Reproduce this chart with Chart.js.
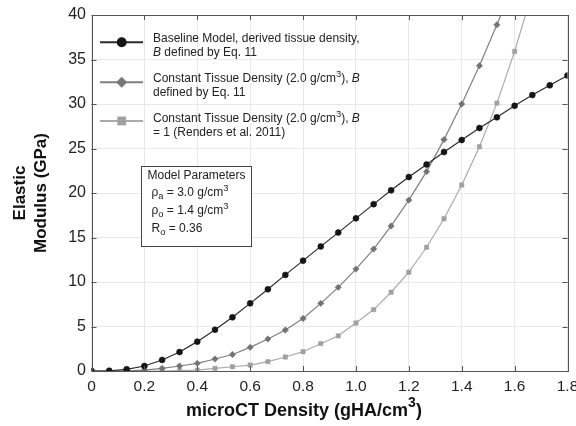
<!DOCTYPE html>
<html>
<head>
<meta charset="utf-8">
<script src="https://cdn.jsdelivr.net/npm/chart.js@4.4.1/dist/chart.umd.min.js"></script>
<style>
html, body { margin: 0; padding: 0; background: #fff; }
#wrap { width: 576px; height: 426px; position: relative; }
</style>
</head>
<body>
<div id="wrap"><canvas id="chartModulus"></canvas></div>
<script>
// microCT density (gHA/cm3) sample points
var density = [0, 0.067, 0.133, 0.2, 0.267, 0.333, 0.4, 0.467, 0.533, 0.6, 0.667, 0.733, 0.8, 0.867,
               0.933, 1.0, 1.067, 1.133, 1.2, 1.267, 1.333, 1.4, 1.467, 1.533, 1.6, 1.667, 1.733, 1.8];
// elastic modulus (GPa)
var baseline = [0, 0.03, 0.19, 0.56, 1.24, 2.13, 3.3, 4.64, 6.03, 7.6, 9.18, 10.8, 12.4, 14.0,
                15.55, 17.15, 18.75, 20.3, 21.8, 23.2, 24.6, 25.95, 27.3, 28.5, 29.8, 31.0, 32.1, 33.2];
var constEq11 = [0, 0, 0.02, 0.1, 0.3, 0.56, 0.86, 1.35, 1.85, 2.66, 3.6, 4.6, 5.9, 7.6,
                 9.4, 11.45, 13.7, 16.3, 19.2, 22.4, 26.0, 30.0, 34.3, 38.9, 43.8];
var constB1 = [0, 0, 0, 0, 0, 0.05, 0.1, 0.3, 0.48, 0.67, 1.05, 1.57, 2.17, 3.07,
               3.95, 5.4, 6.9, 8.85, 11.1, 13.9, 17.1, 20.9, 25.2, 30.1, 35.9, 42.6];
var xTicks = ['0', '0.2', '0.4', '0.6', '0.8', '1.0', '1.2', '1.4', '1.6', '1.8'];
var yTicks = ['0', '5', '10', '15', '20', '25', '30', '35', '40'];

var FONT = '"Liberation Sans", Arial, Helvetica, sans-serif';

function pts(ys) {
    return ys.map(function (y, i) { return { x: density[i], y: y }; });
}

// draws a row of text pieces (normal / italic / sup / sub), returns end x
function runs(ctx, x, y, parts, size, bold, dry) {
    parts.forEach(function (p) {
        var s = size, dy = 0, st = '';
        if (p.s === 'i') st = 'italic ';
        if (p.s === 'sup') { s = size * 0.78; dy = -size * 0.42; }
        if (p.s === 'sub') { s = size * 0.78; dy = size * 0.32; }
        ctx.font = st + (bold ? 'bold ' : '') + s + 'px ' + FONT;
        if (!dry) ctx.fillText(p.t, x, y + dy);
        x += ctx.measureText(p.t).width;
    });
    return x;
}

function marker(ctx, kind, x, y, r, color) {
    ctx.fillStyle = color;
    ctx.beginPath();
    if (kind === 'circle') ctx.arc(x, y, r, 0, Math.PI * 2);
    if (kind === 'diamond') { ctx.moveTo(x, y - r); ctx.lineTo(x + r, y); ctx.lineTo(x, y + r); ctx.lineTo(x - r, y); ctx.closePath(); }
    if (kind === 'square') ctx.rect(x - r * 0.8, y - r * 0.8, r * 1.6, r * 1.6);
    ctx.fill();
}

var decor = {
    id: 'decor',
    afterDraw: function (chart) {
        var ctx = chart.ctx, a = chart.chartArea;
        var sx = chart.scales.x, sy = chart.scales.y;
        ctx.save();

        // inward tick marks on all four sides
        ctx.strokeStyle = '#555';
        ctx.lineWidth = 1;
        ctx.beginPath();
        sx.ticks.forEach(function (t) {
            var px = Math.round(sx.getPixelForValue(t.value)) + 0.5;
            ctx.moveTo(px, a.bottom); ctx.lineTo(px, a.bottom - 5);
            ctx.moveTo(px, a.top); ctx.lineTo(px, a.top + 5);
        });
        sy.ticks.forEach(function (t) {
            var py = Math.round(sy.getPixelForValue(t.value)) + 0.5;
            ctx.moveTo(a.left, py); ctx.lineTo(a.left + 5, py);
            ctx.moveTo(a.right, py); ctx.lineTo(a.right - 5, py);
        });
        ctx.stroke();
        ctx.strokeRect(Math.round(a.left) + 0.5, Math.round(a.top) + 0.5,
                       Math.round(a.right - a.left), Math.round(a.bottom - a.top));

        // legend
        var entries = [
            { y: 38.5, my: 42.3, line: '#2b2b2b', mark: 'circle', mc: '#151515', r: 5,
              l1: [{ t: 'Baseline Model, derived tissue density,' }],
              l2: [{ t: 'B', s: 'i' }, { t: ' defined by Eq. 11' }] },
            { y: 79, my: 82.3, line: '#808080', mark: 'diamond', mc: '#777', r: 5.5,
              l1: [{ t: 'Constant Tissue Density (2.0 g/cm' }, { t: '3', s: 'sup' }, { t: '), ' }, { t: 'B', s: 'i' }],
              l2: [{ t: 'defined by Eq. 11' }] },
            { y: 119, my: 121, line: '#ababab', mark: 'square', mc: '#a0a0a0', r: 5.5,
              l1: [{ t: 'Constant Tissue Density (2.0 g/cm' }, { t: '3', s: 'sup' }, { t: '), ' }, { t: 'B', s: 'i' }],
              l2: [{ t: '= 1 (Renders et al. 2011)' }] }
        ];
        ctx.textBaseline = 'middle';
        ctx.textAlign = 'left';
        entries.forEach(function (e) {
            ctx.strokeStyle = e.line;
            ctx.lineWidth = 2;
            ctx.beginPath(); ctx.moveTo(100, e.my); ctx.lineTo(143, e.my); ctx.stroke();
            marker(ctx, e.mark, 121.7, e.my, e.r, e.mc);
            ctx.fillStyle = '#222';
            runs(ctx, 153, e.y, e.l1, 12);
            runs(ctx, 153, e.y + 14, e.l2, 12);
        });

        // model parameter box
        ctx.fillStyle = '#fff';
        ctx.fillRect(142, 167, 110, 80);
        ctx.strokeStyle = '#444';
        ctx.lineWidth = 1;
        ctx.strokeRect(141.5, 166.5, 110, 80);
        ctx.fillStyle = '#222';
        runs(ctx, 147.5, 175.5, [{ t: 'Model Parameters' }], 12);
        runs(ctx, 151.5, 193, [{ t: 'ρ' }, { t: 'a', s: 'sub' }, { t: ' = 3.0 g/cm' }, { t: '3', s: 'sup' }], 12);
        runs(ctx, 151.5, 211, [{ t: 'ρ' }, { t: 'o', s: 'sub' }, { t: ' = 1.4 g/cm' }, { t: '3', s: 'sup' }], 12);
        runs(ctx, 151.5, 229, [{ t: 'R' }, { t: 'o', s: 'sub' }, { t: ' = 0.36' }], 12);

        // axis titles
        ctx.fillStyle = '#111';
        var xt = [{ t: 'microCT Density (gHA/cm' }, { t: '3', s: 'sup' }, { t: ')' }];
        var w = runs(ctx, 0, 0, xt, 18, true, true);
        runs(ctx, 304 - w / 2, 411, xt, 18, true);

        ctx.font = 'bold 17px ' + FONT;
        ctx.textAlign = 'center';
        ctx.save();
        ctx.translate(20, 193); ctx.rotate(-Math.PI / 2);
        ctx.fillText('Elastic', 0, 0);
        ctx.restore();
        ctx.save();
        ctx.translate(41.5, 193); ctx.rotate(-Math.PI / 2);
        ctx.fillText('Modulus (GPa)', 0, 0);
        ctx.restore();

        ctx.restore();
    }
};

var ctxModulus = document.getElementById('chartModulus').getContext('2d');
var chart = new Chart(ctxModulus, {
    type: 'line',
    data: {
        datasets: [{
            label: 'Baseline Model, derived tissue density, B defined by Eq. 11',
            data: pts(baseline),
            borderColor: '#2b2b2b',
            borderWidth: 1.2,
            pointStyle: 'circle',
            pointRadius: 3,
            pointBackgroundColor: '#151515',
            pointBorderColor: '#151515',
            pointBorderWidth: 0.5
        }, {
            label: 'Constant Tissue Density (2.0 g/cm3), B defined by Eq. 11',
            data: pts(constEq11),
            borderColor: '#808080',
            borderWidth: 1.2,
            pointStyle: 'rectRot',
            pointRadius: 3.2,
            pointBackgroundColor: '#727272',
            pointBorderColor: '#727272',
            pointBorderWidth: 0.5
        }, {
            label: 'Constant Tissue Density (2.0 g/cm3), B = 1 (Renders et al. 2011)',
            data: pts(constB1),
            borderColor: '#ababab',
            borderWidth: 1.2,
            pointStyle: 'rect',
            pointRadius: 3.1,
            pointBackgroundColor: '#a0a0a0',
            pointBorderColor: '#a0a0a0',
            pointBorderWidth: 0.5
        }]
    },
    options: {
        responsive: true,
        maintainAspectRatio: false,
        animation: false,
        layout: { padding: { left: 0, right: 8.5, top: 15, bottom: 0 } },
        plugins: { legend: { display: false }, tooltip: { enabled: false } },
        scales: {
            x: {
                type: 'linear', min: 0, max: 1.8,
                afterFit: function (s) { s.height = 55; s.paddingLeft = 0; s.paddingRight = 0; },
                ticks: {
                    stepSize: 0.2, padding: 6, color: '#222', maxRotation: 0, autoSkip: false,
                    font: { size: 15.5, family: FONT },
                    callback: function (v, i) { return xTicks[i]; }
                },
                grid: { color: '#e8e8e8', drawTicks: false },
                border: { display: false }
            },
            y: {
                min: 0, max: 40,
                afterFit: function (s) { s.width = 91.5; s.paddingTop = 0; s.paddingBottom = 0; },
                ticks: {
                    stepSize: 5, padding: 5.5, color: '#222',
                    font: { size: 16, family: FONT },
                    callback: function (v, i) { return yTicks[i]; }
                },
                grid: { color: '#e8e8e8', drawTicks: false },
                border: { display: false }
            }
        }
    },
    plugins: [decor]
});
</script>
</body>
</html>
